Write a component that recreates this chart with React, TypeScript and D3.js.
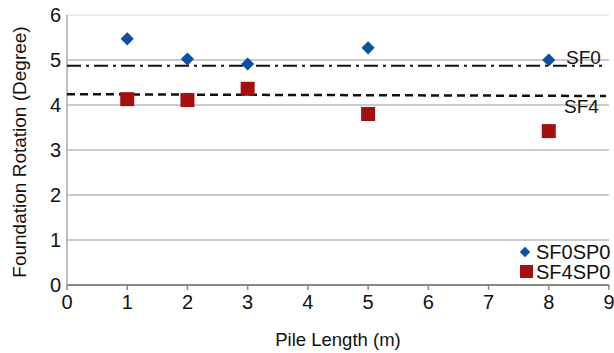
import React from "react";
import * as d3 from "d3";

const pileLength = [1, 2, 3, 5, 8];
const sf0sp0 = [5.47, 5.02, 4.91, 5.27, 5.0];
const sf4sp0 = [4.13, 4.11, 4.36, 3.8, 3.42];
const sf0Line = [4.87, 4.87];
const sf4Line = [4.24, 4.2];
const xTicks = [0, 1, 2, 3, 4, 5, 6, 7, 8, 9];
const yTicks = [0, 1, 2, 3, 4, 5, 6];

export default function App() {
  const W = 614, H = 353;
  const left = 67, right = 609, top = 15, bottom = 285;
  const x = d3.scaleLinear().domain([0, 9]).range([left, right]);
  const y = d3.scaleLinear().domain([0, 6]).range([bottom, top]);
  const font = "'Liberation Sans', Arial, sans-serif";
  const diamond = d3.symbol().type(d3.symbolDiamond2 || d3.symbolDiamond).size(110)();
  return (
    <svg width={W} height={H} style={{ position: "absolute", left: 0, top: 0, background: "#fff" }} fontFamily={font}>
      {yTicks.filter(t => t > 0).map(t => (
        <line key={t} x1={left} x2={right} y1={y(t)} y2={y(t)} stroke={t === 6 ? "#d8d8d8" : "#999"} strokeWidth={1} />
      ))}
      <line x1={left} x2={left} y1={top} y2={bottom} stroke="#aaa" strokeWidth={1.5} />
      <line x1={left} x2={right} y1={bottom} y2={bottom} stroke="#888" strokeWidth={2} />
      {xTicks.map(t => (
        <g key={t}>
          <line x1={x(t)} x2={x(t)} y1={bottom} y2={bottom + 5} stroke="#888" strokeWidth={1.5} />
          <text x={x(t)} y={bottom + 24} fontSize={20} textAnchor="middle" fill="#111">{t}</text>
        </g>
      ))}
      {yTicks.map(t => (
        <text key={t} x={left - 6} y={y(t) + 7} fontSize={20} textAnchor="end" fill="#111">{t}</text>
      ))}
      <line x1={x(0)} x2={x(9) - 3} y1={y(sf0Line[0])} y2={y(sf0Line[1])} stroke="#111" strokeWidth={2} strokeDasharray="14,5,3,5" />
      <line x1={x(0)} x2={x(9) - 3} y1={y(sf4Line[0])} y2={y(sf4Line[1])} stroke="#111" strokeWidth={2.5} strokeDasharray="8,5" />
      <text x={566} y={64} fontSize={19} fill="#111">SF0</text>
      <text x={564} y={113} fontSize={19} fill="#111">SF4</text>
      {pileLength.map((p, i) => (
        <rect key={"s" + i} x={x(p) - 7} y={y(sf4sp0[i]) - 7} width={14} height={14} fill="#a50f0f" />
      ))}
      {pileLength.map((p, i) => (
        <path key={"d" + i} d={diamond} transform={`translate(${x(p)},${y(sf0sp0[i])})`} fill="#0d4fa0" />
      ))}
      <path d={d3.symbol().type(d3.symbolDiamond2 || d3.symbolDiamond).size(70)()} transform="translate(525,252)" fill="#0d4fa0" />
      <text x={536} y={259} fontSize={20} fill="#111">SF0SP0</text>
      <rect x={520} y={265} width={13} height={13} fill="#a50f0f" />
      <text x={536} y={279} fontSize={20} fill="#111">SF4SP0</text>
      <text x={338} y={346} fontSize={18.5} textAnchor="middle" fill="#111">Pile Length (m)</text>
      <text transform={`translate(26,${(top + bottom) / 2 + 2}) rotate(-90)`} fontSize={19} textAnchor="middle" fill="#111">Foundation Rotation (Degree)</text>
    </svg>
  );
}
